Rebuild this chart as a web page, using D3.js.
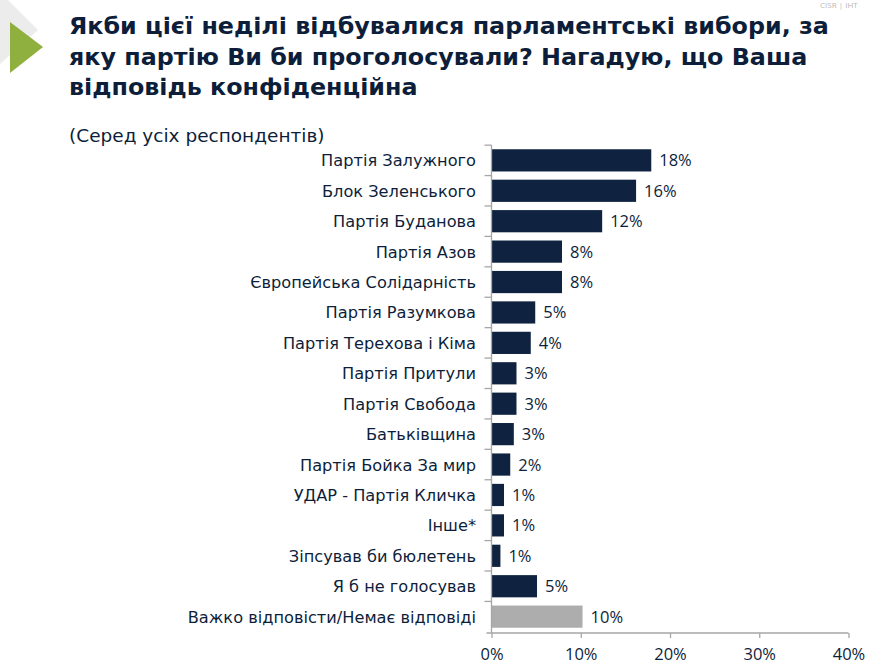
<!DOCTYPE html>
<html><head><meta charset="utf-8">
<script src="https://cdn.jsdelivr.net/npm/d3@7"></script>
<style>body{margin:0;background:#fff}svg{display:block}</style>
</head><body>
<script>
const categories = ["Партія Залужного","Блок Зеленського","Партія Буданова","Партія Азов","Європейська Солідарність","Партія Разумкова","Партія Терехова і Кіма","Партія Притули","Партія Свобода","Батьківщина","Партія Бойка За мир","УДАР - Партія Кличка","Інше*","Зіпсував би бюлетень","Я б не голосував","Важко відповісти/Немає відповіді"];
const values = [17.9,16.2,12.4,7.9,7.9,4.9,4.4,2.8,2.8,2.5,2.1,1.4,1.4,1.0,5.1,10.2];
const valueLabels = ["18%","16%","12%","8%","8%","5%","4%","3%","3%","3%","2%","1%","1%","1%","5%","10%"];
const tickValues = [0,10,20,30,40];
const titleLines = ["Якби цієї неділі відбувалися парламентські вибори, за","яку партію Ви би проголосували? Нагадую, що Ваша","відповідь конфіденційна"];
const subtitle = "(Серед усіх респондентів)";

const W=890,H=667, navy="#0f2341", txt="#0d1e3a";
const svg=d3.select("body").append("svg").attr("width",W).attr("height",H);
const font="'Open Sans', sans-serif";
const wide="'DejaVu Sans', sans-serif";

// logo
svg.append("path").attr("d","M0,-8 L38,30 L0,64 Z").attr("fill","#ececec");
svg.append("path").attr("d","M10,22 L43,47 L10,73 Z").attr("fill","#8fb03e");
svg.append("text").attr("x",820).attr("y",8).attr("font-family",font).attr("font-size",8).attr("fill","#b8b8b8").text("CISR | ІНТ");

const tg=svg.append("g").attr("font-family",wide).attr("font-weight","bold").attr("font-size",23.8).attr("fill",txt);
titleLines.forEach((t,i)=>tg.append("text").attr("x",69).attr("y",34+i*30.5).text(t));
svg.append("text").attr("x",69).attr("y",142).attr("font-family",wide).attr("font-size",18.5).attr("fill",txt).text(subtitle);

const x=d3.scaleLinear().domain([0,40]).range([491.5,848.5]);
const y=d3.scaleBand().domain(categories).range([145,632]).paddingInner(0.27).paddingOuter(0.14);

const g=svg.append("g");
g.selectAll("rect.bar").data(categories).join("rect")
 .attr("x",x(0)).attr("y",d=>y(d)).attr("height",y.bandwidth())
 .attr("width",(d,i)=>x(values[i])-x(0))
 .attr("fill",(d,i)=>i===categories.length-1?"#adadad":navy);
g.selectAll("text.val").data(categories).join("text")
 .attr("x",(d,i)=>x(values[i])+8).attr("y",d=>y(d)+y.bandwidth()/2+6)
 .attr("font-family",font).attr("font-size",16.5).attr("fill",txt)
 .text((d,i)=>valueLabels[i]);
g.selectAll("text.cat").data(categories).join("text")
 .attr("x",476).attr("y",d=>y(d)+y.bandwidth()/2+6).attr("text-anchor","end")
 .attr("font-family",wide).attr("font-size",16.2).attr("fill",txt).text(d=>d);

// y axis
const step=y.step();
svg.append("line").attr("x1",x(0)).attr("x2",x(0)).attr("y1",145).attr("y2",633).attr("stroke","#a6a6a6").attr("stroke-width",1.3);
const bounds=d3.range(categories.length).map(i=>y(categories[i])-y.paddingInner()*step/2);
svg.selectAll("line.yt").data(bounds).join("line").attr("x1",x(0)-7).attr("x2",x(0)).attr("y1",d=>d).attr("y2",d=>d).attr("stroke","#a6a6a6").attr("stroke-width",1.3);

// x axis
const xa=svg.append("g").attr("transform","translate(0,633)")
 .call(d3.axisBottom(x).tickValues(tickValues).tickSize(5).tickFormat(d=>d+"%"));
xa.select(".domain").attr("d",`M${x(0)-5},0H${x(40)}`).attr("stroke","#a6a6a6").attr("stroke-width",1.3);
xa.selectAll(".tick line").attr("stroke","#a6a6a6").attr("stroke-width",1.3);
xa.selectAll(".tick text").attr("font-family",font).attr("font-size",16.5).attr("fill",txt).attr("dy","0.75em").attr("y",15);
</script>
</body></html>
